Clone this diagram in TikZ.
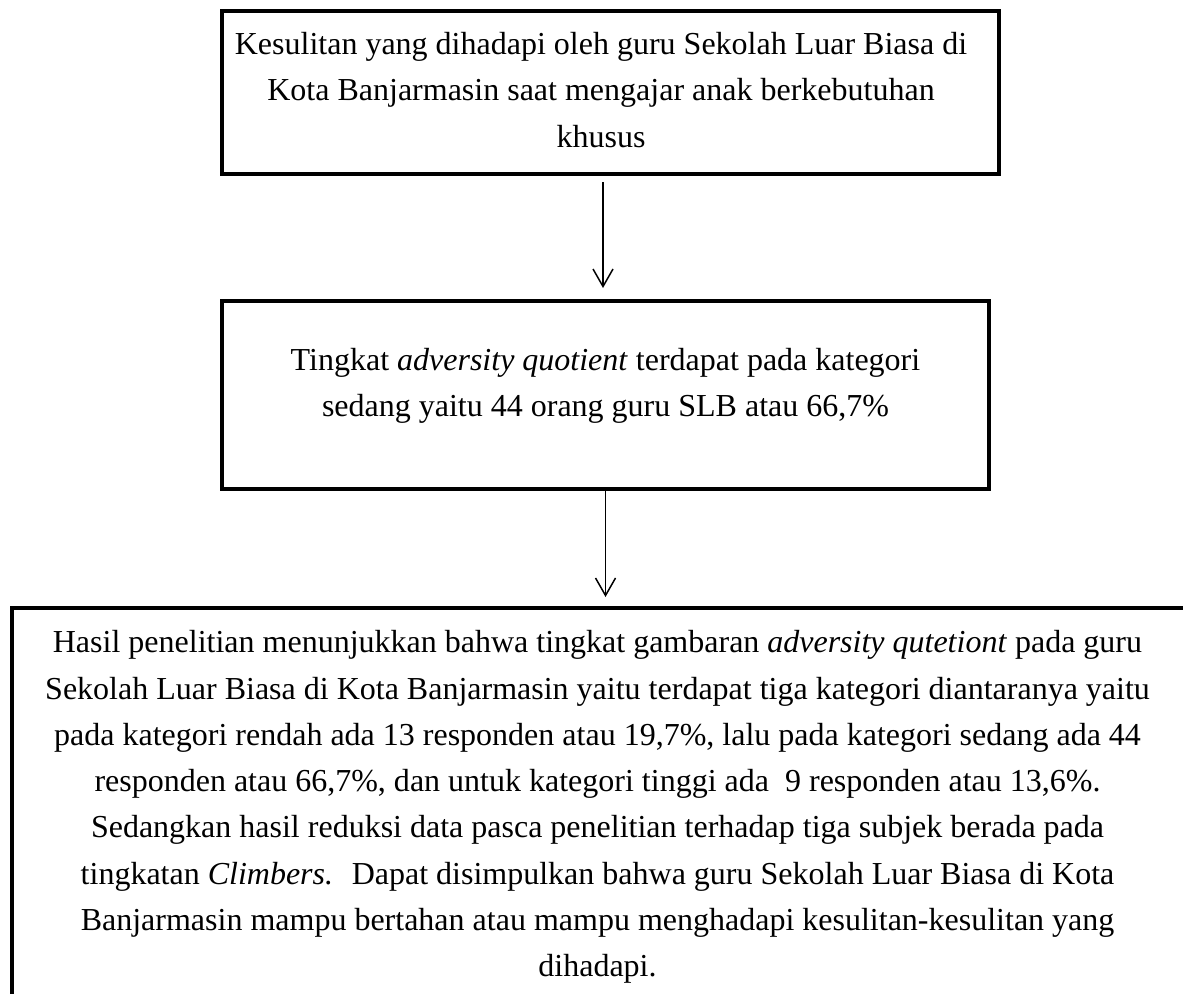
\documentclass[tikz,border=0pt]{standalone}
\usepackage{fontspec}
\setmainfont{Liberation Serif}
\usetikzlibrary{arrows.meta,calc,positioning}

\tikzset{
  box/.style={draw, line width=1.6pt, inner sep=0pt, outer sep=0pt},
  txt/.style={align=center, inner sep=0pt, font=\fontsize{12.8}{18.5}\selectfont},
  flow/.style={line width=0.6pt, -{Straight Barb[length=7pt,width=8pt]}}
}

\begin{document}
\begin{tikzpicture}[x=0.4pt, y=-0.4pt]
    \useasboundingbox (0,0) rectangle (1183,993);
    \clip (0,0) rectangle (1183,993);

    % boxes
    \node [box, minimum width=310.8pt, minimum height=65.2pt] (sulit) at (610.5,92.5) {};
    \node [box, minimum width=306.8pt, minimum height=75.2pt] (aq) at (605.5,395) {};
    \node [box, anchor=north west, minimum width=520pt, minimum height=200pt] (hasil) at (12,608) {};

    % texts
    \node [txt] (sulittext) at (601,90) {Kesulitan yang dihadapi oleh guru Sekolah Luar Biasa di\\
      Kota Banjarmasin saat mengajar anak berkebutuhan\\ khusus};
    \node [txt] (aqtext) at (605.5,386) {Tingkat \textit{adversity quotient} terdapat pada kategori\\
      sedang yaitu 44 orang guru SLB atau 66,7\%};
    \node [txt] (hasiltext) at (597.5,807) {Hasil penelitian menunjukkan bahwa tingkat gambaran \textit{adversity qutetiont} pada guru\\
      Sekolah Luar Biasa di Kota Banjarmasin yaitu terdapat tiga kategori diantaranya yaitu\\
      pada kategori rendah ada 13 responden atau 19,7\%, lalu pada kategori sedang ada 44\\
      responden atau 66,7\%, dan untuk kategori tinggi ada~ 9 responden atau 13,6\%.\\
      Sedangkan hasil reduksi data pasca penelitian terhadap tiga subjek berada pada\\
      tingkatan \textit{Climbers.}~ Dapat disimpulkan bahwa guru Sekolah Luar Biasa di Kota\\
      Banjarmasin mampu bertahan atau mampu menghadapi kesulitan-kesulitan yang\\
      dihadapi.};

    % arrows
    \draw [flow] ($(sulit.south)+(-7.5,8)$) -- ($(aq.north)+(-2.5,-13)$);
    \draw [flow] (aq.south) -- ($(aq.south |- hasil.north)+(0,-11)$);
\end{tikzpicture}
\end{document}
